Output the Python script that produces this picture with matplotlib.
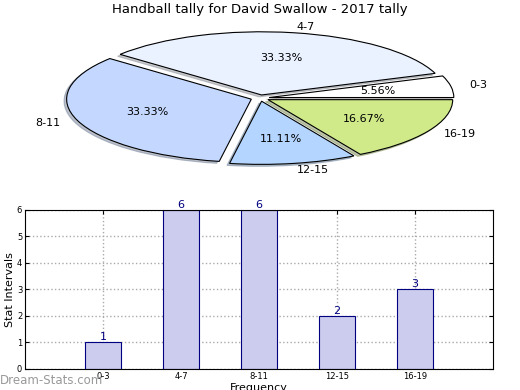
import matplotlib
matplotlib.use("Agg")
import matplotlib.pyplot as plt

categories = ["0-3", "4-7", "8-11", "12-15", "16-19"]
values = [1, 6, 6, 2, 3]
pie_colors = ["#ffffff", "#eaf1ff", "#c4d8ff", "#b3d5ff", "#d0ea8a"]

fig = plt.figure(figsize=(5.2, 3.9), dpi=100)

# Pie
axp = fig.add_axes([0.056, 0.546, 0.888, 0.405])
wedges, texts, autotexts = axp.pie(
    values, labels=categories, colors=pie_colors, autopct="%.2f%%",
    explode=[0.05] * len(values),
    shadow={"ox": -0.01, "oy": -0.022, "shade": 0.4},
    startangle=0,
    wedgeprops=dict(edgecolor="black", linewidth=0.8),
    textprops=dict(fontsize=8), labeldistance=1.1, pctdistance=0.6)
axp.set_aspect("auto")
axp.set_xlim(-1.25, 1.25)
axp.set_ylim(-1.25, 1.25)
fig.text(0.5, 0.975, "Handball tally for David Swallow - 2017 tally",
         ha="center", va="center", fontsize=9.5)

# Bars
axb = fig.add_axes([0.048, 0.054, 0.9, 0.408])
x = list(range(len(categories)))
bars = axb.bar(x, values, width=0.46, color="#ccccee", edgecolor="#000080",
               linewidth=0.8, zorder=2)
for xi, v in zip(x, values):
    axb.text(xi, v, str(v), ha="center", va="bottom", color="#000080",
             fontsize=8, zorder=3)
axb.set_xlim(-1, 5)
axb.set_ylim(0, 6)
axb.set_xticks(x)
axb.set_xticklabels(categories)
axb.set_yticks(range(0, 7))
axb.tick_params(labelsize=6, direction="in", top=True, right=True, length=3,
                pad=2)
axb.grid(True, linestyle=":", color="#aaaaaa", linewidth=1, zorder=0)
axb.set_axisbelow(True)
axb.set_ylabel("Stat Intervals", fontsize=8, labelpad=1)
axb.set_xlabel("Frequency", fontsize=8, labelpad=2)

fig.text(0.0, 0.025, "Dream-Stats.com", color="#999999", fontsize=8.5,
         ha="left", va="center")

fig.savefig("out.png", dpi=100)
